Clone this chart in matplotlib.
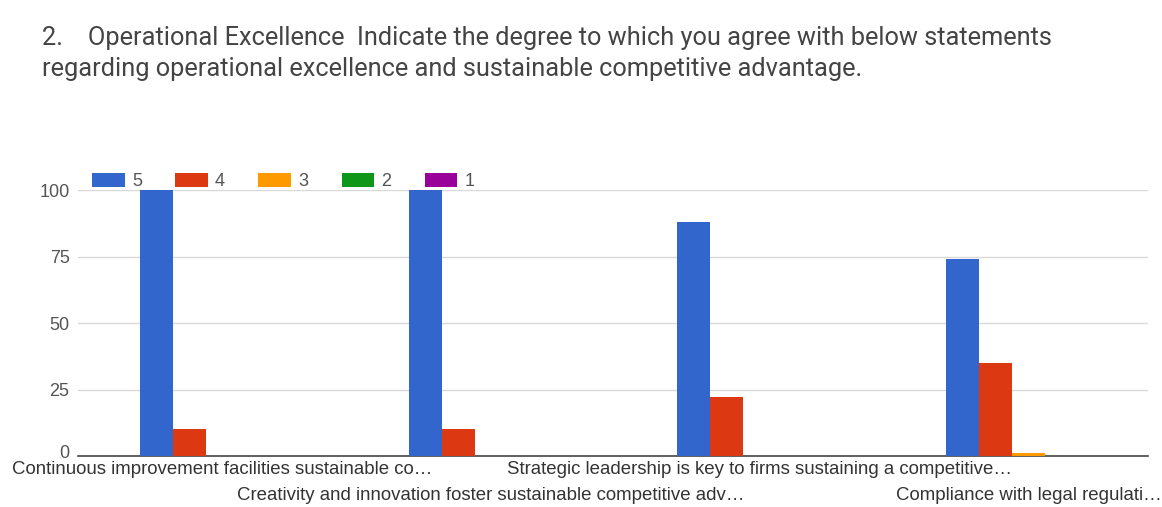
import numpy as np
import matplotlib.pyplot as plt
import matplotlib.transforms as mtransforms

# survey answers per statement, ratings 5..1
categories = [
    "Continuous improvement facilities sustainable co\u2026",
    "Creativity and innovation foster sustainable competitive adv\u2026",
    "Strategic leadership is key to firms sustaining a competitive\u2026",
    "Compliance with legal regulati\u2026",
]
ratings = ["5", "4", "3", "2", "1"]
counts_5 = [100, 100, 88, 74]
counts_4 = [10, 10, 22, 35]
counts_3 = [0, 0, 0, 1]
counts_2 = [0, 0, 0, 0]
counts_1 = [0, 0, 0, 0]
colors = ["#3366cc", "#dc3912", "#ff9900", "#109618", "#990099"]

series = [counts_5, counts_4, counts_3, counts_2, counts_1]

fig = plt.figure(figsize=(11.62, 5.07), dpi=100)
fig.text(0.036, 0.926, "2.    Operational Excellence  Indicate the degree to which you agree with below statements",
         fontsize=18.3, family="Roboto", color="#444444", va="center")
fig.text(0.036, 0.863, "regarding operational excellence and sustainable competitive advantage.",
         fontsize=18.3, family="Roboto", color="#444444", va="center")

ax = fig.add_axes([0.067, 0.1006, 0.921, 0.5246])
x = np.arange(len(categories))
w = 0.1228
handles = []
for i, (vals, c) in enumerate(zip(series, colors)):
    b = ax.bar(x + (i - 2) * w, vals, width=w, color=c, zorder=3, clip_on=False)
    handles.append(b)

ax.set_xlim(-0.538, 3.444)
ax.set_ylim(0, 100)
ax.set_yticks([0, 25, 50, 75, 100])
ax.grid(axis="y", color="#d9d9d9", linewidth=1, zorder=0)
for s in ["top", "right", "left"]:
    ax.spines[s].set_visible(False)
ax.spines["bottom"].set_color("#444444")
ax.spines["bottom"].set_linewidth(1.2)
ax.tick_params(axis="y", length=0, labelsize=13, labelcolor="#555555", pad=6)
ax.tick_params(axis="x", length=0)
for lab in ax.get_yticklabels():
    lab.set_family("Liberation Sans")
# the zero label sits a little above the baseline, as in the original
zero_lab = ax.get_yticklabels()[0]
zero_lab.set_transform(zero_lab.get_transform() +
                       mtransforms.ScaledTranslation(0, 3 / 72, fig.dpi_scale_trans))

ax.set_xticks(x)
ax.set_xticklabels([])
for i, name in enumerate(categories):
    yoff = -0.02 if i % 2 == 0 else -0.115
    ax.text(x[i], yoff, name, transform=ax.get_xaxis_transform(),
            ha="center", va="top", fontsize=13.4, family="Liberation Sans", color="#333333")

leg = ax.legend(handles, ratings, loc="lower left", bbox_to_anchor=(0.005, 0.965), ncol=5,
                frameon=False, handlelength=1.8, handleheight=0.85,
                columnspacing=1.85, handletextpad=0.4, borderaxespad=0.1,
                prop={"family": "Liberation Sans", "size": 13})
for t in leg.get_texts():
    t.set_color("#555555")

fig.savefig("out.png", dpi=100)
